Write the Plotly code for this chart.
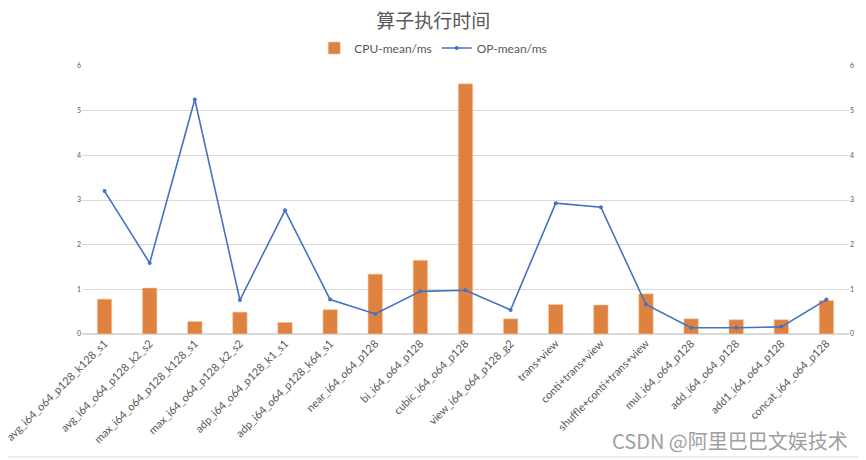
import plotly.graph_objects as go

# categories and values
operators = [
    "avg_i64_o64_p128_k128_s1", "avg_i64_o64_p128_k2_s2", "max_i64_o64_p128_k128_s1",
    "max_i64_o64_p128_k2_s2", "adp_i64_o64_p128_k1_s1", "adp_i64_o64_p128_k64_s1",
    "near_i64_o64_p128", "bi_i64_o64_p128", "cubic_i64_o64_p128", "view_i64_o64_p128_g2",
    "trans+view", "conti+trans+view", "shuffle+conti+trans+view", "mul_i64_o64_p128",
    "add_i64_o64_p128", "add1_i64_o64_p128", "concat_i64_o64_p128",
]
cpu_mean = [0.78, 1.03, 0.28, 0.49, 0.26, 0.545, 1.34, 1.65, 5.60, 0.34,
            0.66, 0.65, 0.90, 0.34, 0.32, 0.32, 0.75]
op_mean = [3.20, 1.59, 5.25, 0.76, 2.77, 0.77, 0.45, 0.955, 0.98, 0.54,
           2.93, 2.84, 0.66, 0.14, 0.14, 0.16, 0.77]
y_ticks = [0, 1, 2, 3, 4, 5, 6]

TXT = "#595959"
GRID = "#D9D9D9"

fig = go.Figure()

# bars: CPU time
fig.add_trace(go.Bar(
    x=operators, y=cpu_mean, name="CPU-mean/ms",
    marker=dict(color="#E0823F", line=dict(color="#F5C9A8", width=0.6)),
))

# line: OP time on the right axis
fig.add_trace(go.Scatter(
    x=operators, y=op_mean, name="OP-mean/ms", yaxis="y2",
    mode="lines+markers",
    line=dict(color="#4472C4", width=1.6),
    marker=dict(size=4, color="#4472C4"),
))

fig.update_layout(
    width=866, height=460,
    margin=dict(l=74, r=25, t=58, b=134, autoexpand=False),
    paper_bgcolor="white", plot_bgcolor="white",
    font=dict(family="Lato, Noto Sans CJK SC", color=TXT),
    title=dict(text="算子执行时间", xref="container", x=0.491, xanchor="center",
               y=0.972, yanchor="middle",
               font=dict(family="Noto Sans CJK SC", size=19, color=TXT)),
    bargap=0.68,
    showlegend=True,
    legend=dict(orientation="h", xref="container", x=0.491, xanchor="center",
                y=1.067, yanchor="middle",
                font=dict(size=12, color=TXT), itemwidth=30, bgcolor="rgba(0,0,0,0)"),
    xaxis=dict(range=[-0.5, len(operators) - 0.5], tickangle=-45,
               tickfont=dict(size=11, color=TXT), showgrid=False,
               showline=False, ticks="", automargin=False),
    yaxis=dict(range=[0, 6], tickvals=y_ticks, tickfont=dict(size=7, color=TXT),
               showgrid=True, gridcolor=GRID, gridwidth=1, zeroline=True,
               zerolinecolor=GRID, showline=False, ticks="", automargin=False),
    yaxis2=dict(range=[0, 6], tickvals=y_ticks, tickfont=dict(size=7, color=TXT),
                overlaying="y", side="right", showgrid=False, zeroline=False,
                showline=False, ticks="", automargin=False),
    # faint chart frame (right and bottom edges)
    shapes=[
        dict(type="line", xref="paper", yref="paper", x0=1.015, x1=1.015, y0=-0.459, y1=1.21,
             line=dict(color=GRID, width=1)),
        dict(type="line", xref="paper", yref="paper", x0=-0.1, x1=1.015, y0=-0.459, y1=-0.459,
             line=dict(color=GRID, width=1)),
    ],
    annotations=[dict(text="CSDN @阿里巴巴文娱技术", xref="paper", yref="paper",
                      x=1.001, xanchor="right", y=-0.396, yanchor="middle", showarrow=False,
                      font=dict(family="Noto Sans CJK SC", size=20, color="#A0A0A0"))],
)

fig.write_html("out.html")
